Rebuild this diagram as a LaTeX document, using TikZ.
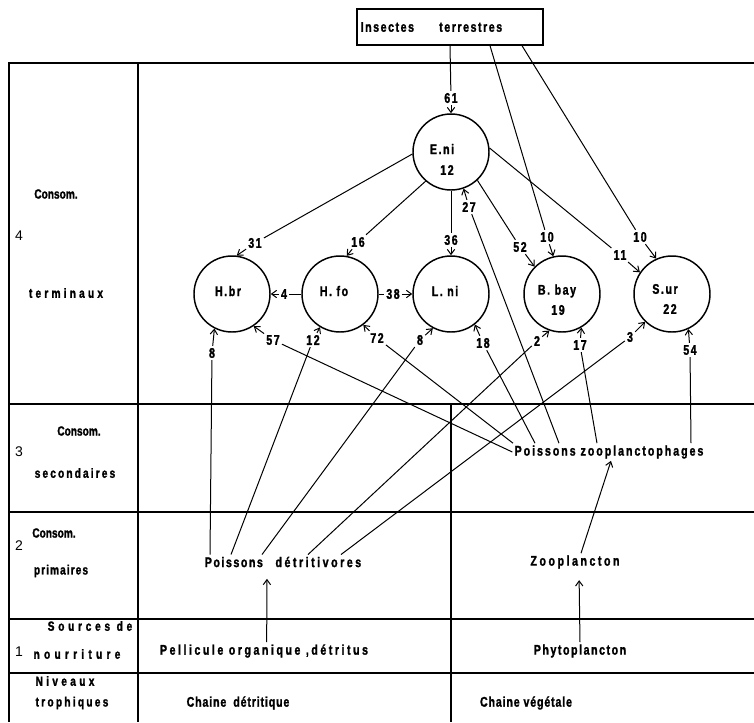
\documentclass[tikz,border=0pt]{standalone}
\usepackage{fontspec}
\setmainfont{Liberation Sans}[FakeStretch=0.76, LetterSpace=11, BoldFeatures={FakeBold=1.5}]
\newfontfamily\lvlfont{Liberation Sans}
\usetikzlibrary{arrows.meta}

% letter-spaced caption text
\newcommand\spaced[2]{{\addfontfeature{LetterSpace=#1}#2}}

\tikzset{
  every node/.style={font=\fontsize{10.5pt}{12pt}\selectfont\bfseries, inner sep=1.5pt},
  grid/.style={line width=1pt},
  circ/.style={circle, draw, line width=1.1pt, minimum size=57pt, inner sep=0pt},
  wire/.style={line width=0.75pt},
  arr/.style={line width=0.75pt, -{Straight Barb[length=3.8pt,width=5.5pt]}},
  side/.style={font=\fontsize{10pt}{11pt}\selectfont\bfseries\addfontfeature{LetterSpace=0}},
  lvl/.style={font=\fontsize{10.5pt}{12pt}\selectfont\lvlfont},
  box/.style={draw, line width=1pt, minimum width=139.5pt, minimum height=27pt}
}

\begin{document}
\begin{tikzpicture}[x=0.75pt,y=-0.75pt]
\useasboundingbox (0,0) rectangle (754,722);

% table frame and rows
\draw[grid] (754,63) -- (9,63) -- (9,722);
\draw[grid] (138,63) -- (138,722);
\foreach \yy in {404,512,619,673} \draw[grid] (9,\yy) -- (754,\yy);
\draw[grid] (451,404) -- (451,722);

% trophic level captions
\node[side] (c4a) at (56,194) {Consom.};
\node[lvl]  (n4)  at (19,236) {4};
\node[side] (c4b) at (66,293) {\spaced{24}{terminaux}};
\node[side] (c3a) at (79,431) {Consom.};
\node[lvl]  (n3)  at (19,452) {3};
\node[side] (c3b) at (75,473) {\spaced{16}{secondaires}};
\node[side] (c2a) at (54,533) {Consom.};
\node[lvl]  (n2)  at (19,546) {2};
\node[side] (c2b) at (61,571) {\spaced{8}{primaires}};
\node[side] (c1a) at (90,626) {\spaced{28}{Sources de}};
\node[lvl]  (n1)  at (19,652) {1};
\node[side] (c1b) at (77,654) {\spaced{32}{nourriture}};
\node[side] (cna) at (65,681) {\spaced{25}{Niveaux}};
\node[side] (cnb) at (72,703) {\spaced{17}{trophiques}};

% external source
\node[box, text width=134pt, align=left] (ins) at (450,27) {Insectes\hspace{1.8em}terrestres};

% predators
\node[circ] (eni)  at (451,152) {};
\node[circ] (hbr)  at (232,294) {};
\node[circ] (hfo)  at (340,294) {};
\node[circ] (lni)  at (451,294) {};
\node[circ] (bbay) at (562,294) {};
\node[circ] (sur)  at (672,294) {};
\node (eniA)  at (442,149) {E.ni};
\node (eniB)  at (447,170) {12};
\node (hbrA)  at (228,291) {H.br};
\node (hfoA)  at (334,291) {H. fo};
\node (lniA)  at (445,291) {L. ni};
\node (bbayA) at (557,291) {B. bay};
\node (bbayB) at (558,310) {19};
\node (surA)  at (665,289) {S.ur};
\node (surB)  at (670,309) {22};

% prey groups and food sources
\node (pzoo)  at (609,452) {\spaced{14}{Poissons zooplanctophages}};
\node (pdet)  at (283,562) {Poissons\hspace{0.9em}\spaced{18}{détritivores}};
\node (zoo)   at (575,562) {\spaced{18}{Zooplancton}};
\node (pell)  at (264,651) {\spaced{18}{Pellicule organique ,détritus}};
\node (phyto) at (580,651) {Phytoplancton};
\node (chd)   at (238,703) {\spaced{6}{Chaine\hspace{0.5em}détritique}};
\node (chv)   at (526,703) {\spaced{6}{Chaine végétale}};

% flow labels
\node (l61)  at (451,98)  {61};
\node (l10a) at (547,237) {10};
\node (l10b) at (640,237) {10};
\node (l31)  at (255,243) {31};
\node (l16)  at (358,242) {16};
\node (l36)  at (451,240) {36};
\node (l52)  at (520,247) {52};
\node (l11)  at (620,255) {11};
\node (l4)   at (284,294) {4};
\node (l38)  at (393,294) {38};
\node (l27)  at (469,207) {27};
\node (l57)  at (273,340) {57};
\node (l72)  at (377,338) {72};
\node (l18)  at (483,343) {18};
\node (l17)  at (580,345) {17};
\node (l54)  at (690,350) {54};
\node (l8a)  at (212,353) {8};
\node (l12)  at (313,340) {12};
\node (l8b)  at (420,340) {8};
\node (l2)   at (537,341) {2};
\node (l3)   at (630,337) {3};

% terrestrial insects
\draw[wire] (ins.south) -- (l61);
\draw[arr] (l61) -- (eni.north);
\draw[wire] ([xshift=30pt]ins.south) -- (l10a);
\draw[arr] (l10a) -- (bbay.103);
\draw[wire] ([xshift=54pt]ins.south) -- (l10b);
\draw[arr] (l10b) -- (sur.114);

% E.ni as prey
\draw[wire] (eni.183) -- (l31);
\draw[arr] (l31) -- (hbr.83);
\draw[wire] (eni.229) -- (l16);
\draw[arr] (l16) -- (hfo.80);
\draw[wire] (eni.south) -- (l36);
\draw[arr] (l36) -- (lni.north);
\draw[wire] (eni.313) -- (l52);
\draw[arr] (l52) -- (bbay.135);
\draw[wire] (eni.6) -- (l11);
\draw[arr] (l11) -- (sur.146);

% H.fo as prey
\draw[wire] (hfo.west) -- (l4);
\draw[arr] (l4) -- (hbr.east);
\draw[wire] (hfo.east) -- (l38);
\draw[arr] (l38) -- (lni.west);

% zooplanktivorous fish as prey
\draw[wire] ([xshift=-37.5pt]pzoo.north) -- (l27);
\draw[arr] (l27) -- (eni.289);
\draw[wire] (pzoo.west) -- (l57);
\draw[arr] (l57) -- (hbr.304);
\draw[wire] ([xshift=-72pt]pzoo.north) -- (l72);
\draw[arr] (l72) -- (hfo.307);
\draw[wire] ([xshift=-55.5pt]pzoo.north) -- (l18);
\draw[arr] (l18) -- (lni.308);
\draw[wire] ([xshift=-9pt]pzoo.north) -- (l17);
\draw[arr] (l17) -- (bbay.300);
\draw[wire] ([xshift=61.5pt]pzoo.north) -- (l54);
\draw[arr] (l54) -- (sur.295);

% detritivorous fish as prey
\draw[wire] ([xshift=-54.75pt]pdet.north) -- (l8a);
\draw[arr] (l8a) -- (hbr.243);
\draw[wire] ([xshift=-39pt]pdet.north) -- (l12);
\draw[arr] (l12) -- (hfo.239);
\draw[wire] ([xshift=-15.75pt]pdet.north) -- (l8b);
\draw[arr] (l8b) -- (lni.242);
\draw[wire] ([xshift=18.75pt]pdet.north) -- (l2);
\draw[arr] (l2) -- (bbay.251);
\draw[wire] ([xshift=43.5pt]pdet.north) -- (l3);
\draw[arr] (l3) -- (sur.226);

% lower links of both chains
\draw[arr] ([xshift=4.5pt]zoo.north) -- ([xshift=1.5pt]pzoo.south);
\draw[arr, shorten >=7pt] ([xshift=2pt]pell.north) -- ([xshift=-12pt]pdet.south);
\draw[arr, shorten >=7pt] (phyto.north) -- ([xshift=3pt]zoo.south);
\end{tikzpicture}
\end{document}
